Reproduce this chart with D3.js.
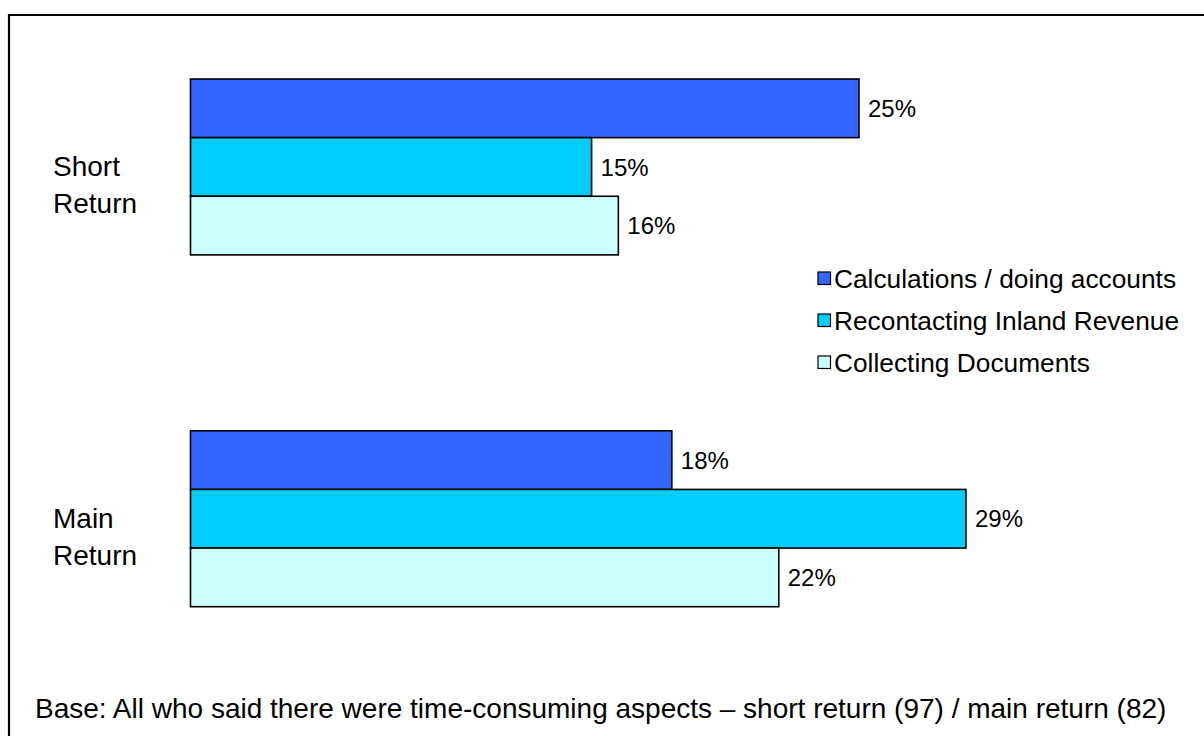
<!DOCTYPE html>
<html>
<head>
<meta charset="utf-8">
<script src="https://cdn.jsdelivr.net/npm/d3@7"></script>
<style>
  html, body { margin: 0; padding: 0; background: #fff; }
  svg { display: block; font-family: "Liberation Sans", Arial, sans-serif; }
</style>
</head>
<body>
<svg id="chart" width="1204" height="736"></svg>
<script>
// Return types (groups) and the time-consuming aspects (series)
const categories = ["Short Return", "Main Return"];
const categoryLines = [["Short", "Return"], ["Main", "Return"]];
const seriesNames = ["Calculations / doing accounts", "Recontacting Inland Revenue", "Collecting Documents"];
const seriesColors = ["#3366FF", "#00CCFF", "#CCFFFF"];
// Percent values per series, in category order
const calculations = [25, 18];
const recontacting = [15, 29];
const collecting = [16, 22];
const baseNote = "Base: All who said there were time-consuming aspects \u2013 short return (97) / main return (82)";

const seriesValues = [calculations, recontacting, collecting];
const rows = [];
categories.forEach((c, ci) => {
  seriesNames.forEach((s, si) => rows.push({ category: c, series: s, value: seriesValues[si][ci], si }));
});

const svg = d3.select("#chart");

// Frame line along the top and left edges
svg.append("path")
  .attr("d", "M9,736 L9,15 L1204,15")
  .attr("fill", "none")
  .attr("stroke", "#000")
  .attr("stroke-width", 2.2);

const x = d3.scaleLinear().domain([0, 30]).range([190.5, 190.5 + 30 * 26.74]);
const y0 = d3.scaleBand().domain(categories).range([79, 606.7]).paddingInner(0.5).paddingOuter(0);
const y1 = d3.scaleBand().domain(seriesNames).range([0, y0.bandwidth()]);
const color = d3.scaleOrdinal().domain(seriesNames).range(seriesColors);

const bars = svg.append("g");
bars.selectAll("rect")
  .data(rows)
  .join("rect")
  .attr("x", x(0))
  .attr("y", d => y0(d.category) + y1(d.series))
  .attr("width", d => x(d.value) - x(0))
  .attr("height", y1.bandwidth())
  .attr("fill", d => color(d.series))
  .attr("stroke", "#000")
  .attr("stroke-width", 1.6);

// Value labels at the end of each bar
svg.append("g").selectAll("text")
  .data(rows)
  .join("text")
  .attr("x", d => x(d.value) + 9)
  .attr("y", d => y0(d.category) + y1(d.series) + y1.bandwidth() / 2)
  .attr("dy", "0.36em")
  .attr("font-size", 24)
  .attr("fill", "#000")
  .text(d => d.value + "%");

// Category labels on two lines
const catG = svg.append("g");
categories.forEach((c, ci) => {
  const cy = y0(c) + y0.bandwidth() / 2;
  const t = catG.append("text")
    .attr("font-size", 28)
    .attr("fill", "#000");
  categoryLines[ci].forEach((line, li) => {
    t.append("tspan")
      .attr("x", 53)
      .attr("y", cy + 9.5 + li * 36.7)
      .text(line);
  });
});

// Legend
const legend = svg.append("g").attr("transform", "translate(818,0)");
const legendY = d3.scalePoint().domain(seriesNames).range([278.5, 362.5]);
const items = legend.selectAll("g")
  .data(seriesNames)
  .join("g")
  .attr("transform", d => `translate(0,${legendY(d)})`);
items.append("rect")
  .attr("x", 0)
  .attr("y", -6.5)
  .attr("width", 12.5)
  .attr("height", 12.5)
  .attr("fill", d => color(d))
  .attr("stroke", "#000")
  .attr("stroke-width", 1.2);
items.append("text")
  .attr("x", 16)
  .attr("y", 0)
  .attr("dy", "0.36em")
  .attr("font-size", 26.3)
  .attr("fill", "#000")
  .text(d => d);

// Base note
svg.append("text")
  .attr("x", 35)
  .attr("y", 718)
  .attr("font-size", 28)
  .attr("fill", "#000")
  .text(baseNote);
</script>
</body>
</html>
